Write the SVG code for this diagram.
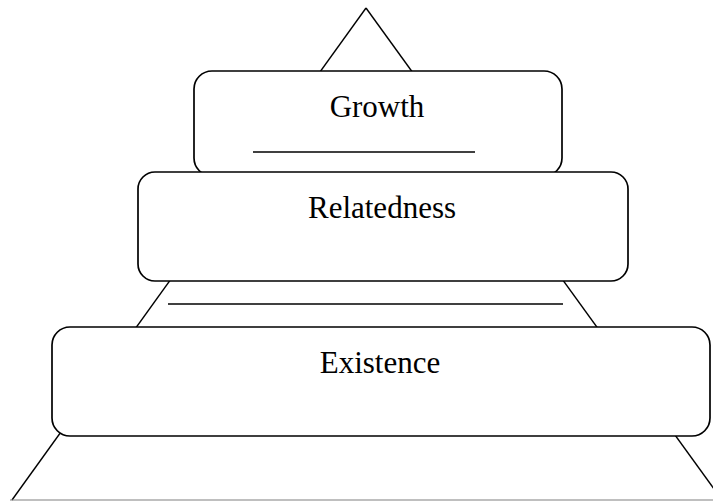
<svg xmlns="http://www.w3.org/2000/svg" width="713" height="501" viewBox="0 0 713 501">
  <style>
    .edge { stroke: #000; stroke-width: 1.4; fill: none; }
    .box { fill: #fff; stroke: #000; stroke-width: 1.7; }
    .label { font-family: "Liberation Serif", "Times New Roman", serif; font-size: 31px; fill: #000; text-anchor: middle; }
  </style>
  <rect width="713" height="501" fill="#fff"/>

  <!-- pyramid outline behind the tiers -->
  <g id="pyramid">
    <line class="edge" x1="366" y1="8" x2="12" y2="500"/>
    <line class="edge" x1="366" y1="8" x2="722" y2="500"/>
    <line x1="10" y1="500" x2="713" y2="500" stroke="#808080" stroke-width="1.2"/>
    <line class="edge" x1="168" y1="304" x2="563" y2="304"/>
  </g>

  <g id="growth">
    <rect class="box" x="194" y="71" width="368" height="105" rx="18" ry="18"/>
    <text class="label" x="377" y="117">Growth</text>
    <line class="edge" x1="253" y1="152" x2="475" y2="152"/>
  </g>

  <g id="relatedness">
    <rect class="box" x="138" y="172" width="490" height="109" rx="17" ry="17"/>
    <text class="label" x="382" y="218">Relatedness</text>
  </g>

  <g id="existence">
    <rect class="box" x="52" y="327" width="658" height="109" rx="18" ry="18"/>
    <text class="label" x="380" y="373">Existence</text>
  </g>
</svg>
